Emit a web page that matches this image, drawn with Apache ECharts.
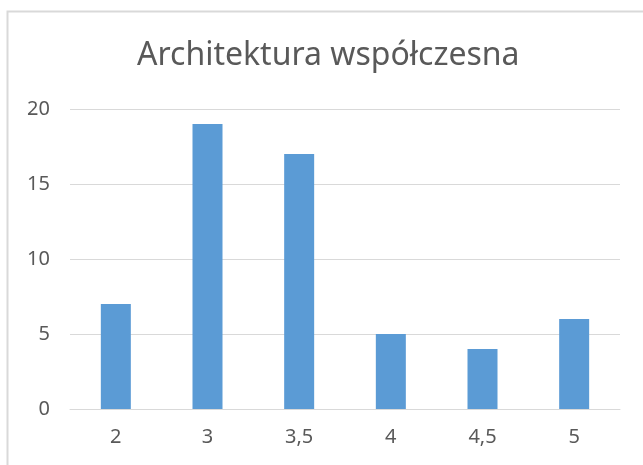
<!DOCTYPE html>
<html>
<head>
<meta charset="utf-8">
<script src="https://cdn.jsdelivr.net/npm/echarts@6/dist/echarts.min.js"></script>
<style>
  html, body { margin: 0; padding: 0; background: #fff; }
  #wykres { width: 643px; height: 465px; }
</style>
</head>
<body>
<div id="wykres"></div>
<script>
  // Oceny i liczba odpowiedzi
  const oceny = ["2", "3", "3,5", "4", "4,5", "5"];
  const liczba = [7, 19, 17, 5, 4, 6];
  const osY = [0, 5, 10, 15, 20];

  const contenedor = document.getElementById("wykres");
  const myChart = echarts.init(contenedor);

  var option = {
    animation: false,
    backgroundColor: "#fff",
    title: {
      text: "Architektura współczesna",
      left: 132,
      top: 35,
      textStyle: {
        fontFamily: "Noto Sans",
        fontSize: 32,
        fontWeight: "normal",
        color: "#595959",
      },
    },
    // ramka wykresu (ucięta z prawej i na dole)
    graphic: [
      {
        type: "rect",
        left: 5,
        top: 9,
        shape: { width: 700, height: 500 },
        style: { fill: "none", stroke: "#d9d9d9", lineWidth: 2 },
        silent: true,
      },
    ],
    grid: { left: 70, right: 23, top: 109, bottom: 56 },
    xAxis: {
      type: "category",
      data: oceny,
      axisLine: { lineStyle: { color: "#d9d9d9" } },
      axisTick: { show: false },
      axisLabel: {
        fontFamily: "Noto Sans",
        fontSize: 20,
        color: "#595959",
        margin: 18,
      },
    },
    yAxis: {
      type: "value",
      min: osY[0],
      max: osY[osY.length - 1],
      interval: 5,
      axisLine: { show: false },
      axisTick: { show: false },
      splitLine: { lineStyle: { color: "#d9d9d9" } },
      axisLabel: {
        fontFamily: "Noto Sans",
        fontSize: 20,
        color: "#595959",
        margin: 20,
      },
    },
    series: [
      {
        type: "bar",
        data: liczba,
        barWidth: 30,
        itemStyle: { color: "#5b9bd5" },
      },
    ],
  };

  myChart.setOption(option);
</script>
</body>
</html>
